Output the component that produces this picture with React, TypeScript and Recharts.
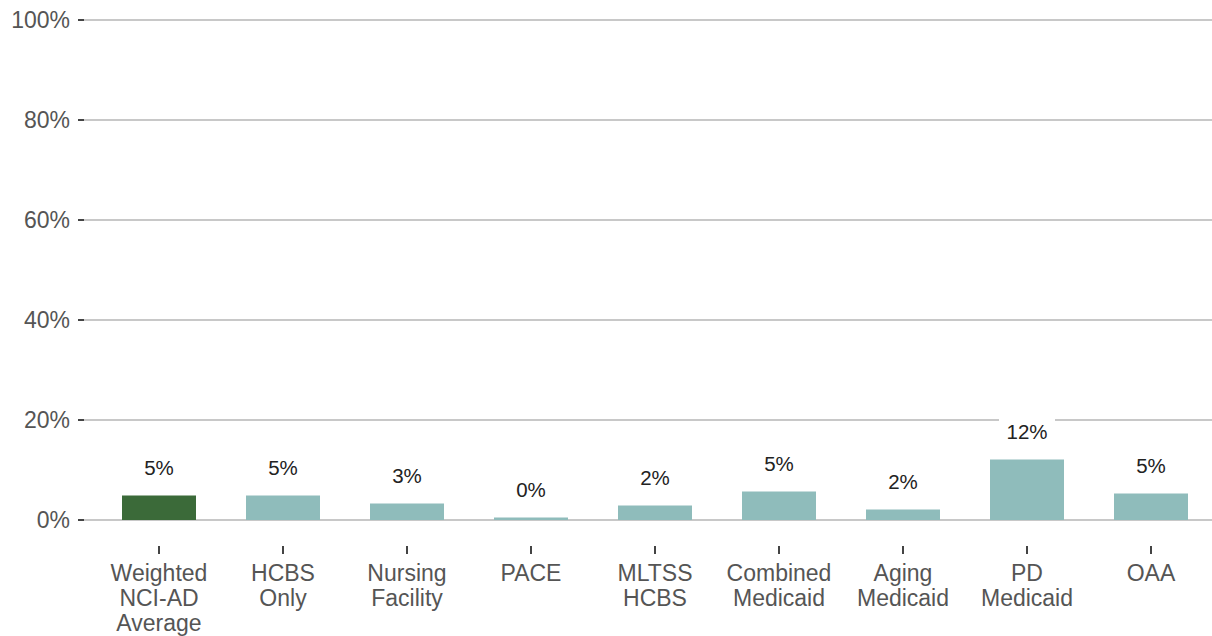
import React from 'react';
import { BarChart, Bar, XAxis, YAxis, CartesianGrid, LabelList, Cell } from 'recharts';

const categories = [
    'Weighted\nNCI-AD\nAverage',
    'HCBS\nOnly',
    'Nursing\nFacility',
    'PACE',
    'MLTSS\nHCBS',
    'Combined\nMedicaid',
    'Aging\nMedicaid',
    'PD\nMedicaid',
    'OAA',
];
const values = [4.9, 4.9, 3.3, 0.5, 2.9, 5.7, 2.1, 12.1, 5.3];
const valueLabels = ['5%', '5%', '3%', '0%', '2%', '5%', '2%', '12%', '5%'];
const yTicks = [0, 20, 40, 60, 80, 100];

const AVERAGE_COLOR = '#3b6a39';
const GROUP_COLOR = '#8fbcbb';
const FONT = '"Liberation Sans", Arial, sans-serif';

const data = categories.map((name, i) => ({ name, value: values[i], label: valueLabels[i] }));

const XTick = (props: any) => {
    const { x, y, payload } = props;
    const lines = String(payload.value).split('\n');
    return (
        <g>
            <line x1={x} x2={x} y1={y + 26} y2={y + 34} stroke="#444" strokeWidth={2} />
            <text x={x} y={y + 61} textAnchor="middle" fill="#555" fontSize={23} fontFamily={FONT}>
                {lines.map((l, i) => (
                    <tspan key={i} x={x} dy={i === 0 ? 0 : 25}>{l}</tspan>
                ))}
            </text>
        </g>
    );
};

const ValueLabel = (props: any) => {
    const { x, y, width, value } = props;
    const cx = x + width / 2;
    const cy = y - 28;
    const w = String(value).length * 12 + 20;
    return (
        <g>
            <rect x={cx - w / 2} y={cy - 13} width={w} height={26} fill="#fff" />
            <text x={cx} y={cy + 7} textAnchor="middle" fill="#222" fontSize={20.5} fontFamily={FONT}>
                {value}
            </text>
        </g>
    );
};

export default function App() {
    return (
        <div style={{ position: 'absolute', left: 0, top: 0, background: '#fff' }}>
            <BarChart
                width={1213}
                height={636}
                data={data}
                margin={{ top: 20, right: 0, left: 0, bottom: 0 }}
                barCategoryGap={0}
            >
                <CartesianGrid vertical={false} stroke="#c8c8c8" strokeWidth={2} />
                <XAxis
                    dataKey="name"
                    axisLine={false}
                    tickLine={false}
                    tickSize={0}
                    tickMargin={0}
                    height={116}
                    interval={0}
                    padding={{ left: 13, right: 0 }}
                    tick={<XTick />}
                />
                <YAxis
                    domain={[0, 100]}
                    ticks={yTicks}
                    width={84}
                    axisLine={false}
                    tickLine={{ stroke: '#444', strokeWidth: 2 }}
                    tickSize={6}
                    tickMargin={8}
                    tickFormatter={(v: number) => `${v}%`}
                    tick={{ fill: '#555', fontSize: 23, fontFamily: FONT }}
                />
                <Bar dataKey="value" barSize={74} isAnimationActive={false}>
                    {data.map((d, i) => (
                        <Cell key={d.name} fill={i === 0 ? AVERAGE_COLOR : GROUP_COLOR} />
                    ))}
                    <LabelList dataKey="label" content={<ValueLabel />} />
                </Bar>
            </BarChart>
        </div>
    );
}
